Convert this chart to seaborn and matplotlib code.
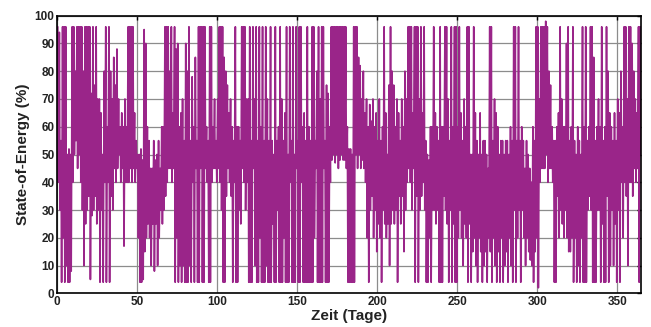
import numpy as np
import pandas as pd
import matplotlib
matplotlib.use("Agg")
import matplotlib.pyplot as plt
import seaborn as sns

# Daily maximum / minimum state-of-energy (%) of the storage, days 0-365
hi_0_72 = [96, 94, 55, 96, 96, 96, 50, 52, 50, 96, 96, 80, 96, 96, 96, 96, 80, 96, 96, 96,
           96, 72, 96, 75, 96, 70, 70, 65, 50, 80, 96, 60, 96, 80, 70, 85, 75, 88, 70, 60,
           65, 60, 70, 60, 96, 96, 96, 96, 65, 55, 50, 50, 52, 48, 95, 90, 60, 55, 45, 45,
           55, 48, 50, 55, 45, 60, 60, 96, 96, 96, 80, 96, 65]
lo_0_72 = [40, 30, 4, 20, 4, 10, 4, 4, 8, 40, 50, 55, 45, 50, 40, 30, 10, 25, 30, 35,
           5, 28, 30, 35, 25, 30, 4, 30, 4, 40, 4, 40, 4, 35, 30, 45, 40, 45, 50, 40,
           45, 17, 40, 40, 40, 45, 40, 45, 40, 45, 20, 4, 4, 5, 15, 20, 25, 20, 10, 25,
           8, 25, 10, 20, 30, 25, 30, 35, 40, 45, 45, 40, 45]

hi_73_145 = [96, 88, 90, 60, 65, 70, 55, 90, 80, 96, 55, 78, 60, 85, 55, 96, 96, 96, 96, 96,
             60, 55, 96, 96, 60, 70, 55, 70, 96, 96, 96, 85, 80, 75, 65, 70, 60, 55, 96, 60,
             60, 55, 96, 96, 96, 70, 70, 96, 55, 96, 70, 96, 55, 96, 60, 96, 55, 96, 70, 55,
             96, 55, 50, 96, 55, 60, 96, 70, 55, 65, 96, 50, 96]
lo_73_145 = [4, 20, 4, 10, 4, 10, 4, 4, 4, 10, 4, 40, 4, 45, 4, 4, 45, 4, 4, 45,
             40, 4, 4, 40, 45, 45, 40, 45, 40, 30, 4, 4, 35, 45, 40, 35, 4, 40, 4, 4,
             30, 25, 45, 40, 30, 40, 4, 4, 4, 45, 10, 4, 4, 20, 4, 4, 4, 10, 4, 4,
             4, 25, 4, 4, 30, 4, 4, 4, 20, 4, 4, 4, 40]

hi_146_218 = [55, 96, 50, 96, 55, 96, 96, 60, 65, 55, 96, 60, 55, 96, 96, 55, 80, 96, 70, 96,
              96, 55, 75, 72, 60, 96, 96, 96, 96, 96, 96, 96, 96, 96, 96, 60, 52, 52, 50, 96,
              96, 96, 85, 82, 70, 80, 65, 70, 60, 68, 62, 70, 60, 65, 55, 70, 55, 60, 96, 65,
              50, 75, 96, 80, 75, 60, 70, 65, 55, 70, 60, 80, 70]
lo_146_218 = [4, 4, 4, 45, 4, 4, 40, 4, 4, 4, 4, 4, 4, 4, 20, 45, 4, 4, 4, 4,
              45, 4, 4, 4, 40, 48, 50, 47, 50, 45, 48, 50, 48, 48, 45, 4, 4, 4, 4, 4,
              50, 45, 50, 45, 48, 45, 40, 20, 4, 30, 35, 20, 30, 15, 25, 20, 4, 30, 25, 20,
              25, 10, 25, 30, 25, 30, 4, 35, 25, 35, 15, 30, 40]

hi_219_291 = [96, 96, 96, 65, 96, 96, 96, 70, 96, 65, 96, 55, 50, 48, 60, 60, 96, 65, 60, 55,
              96, 60, 60, 96, 96, 70, 55, 96, 60, 96, 96, 60, 96, 65, 55, 70, 60, 96, 96, 50,
              50, 96, 65, 55, 50, 65, 50, 55, 55, 50, 45, 96, 96, 55, 70, 65, 60, 50, 55, 55,
              50, 55, 55, 50, 60, 55, 96, 96, 55, 96, 55, 60, 55]
lo_219_291 = [45, 40, 30, 45, 4, 35, 4, 30, 35, 40, 30, 4, 4, 20, 4, 30, 30, 25, 30, 4,
              4, 4, 35, 30, 25, 4, 30, 4, 25, 4, 4, 20, 30, 20, 10, 25, 20, 4, 25, 4,
              15, 20, 10, 4, 20, 15, 4, 10, 15, 4, 20, 15, 4, 20, 10, 4, 15, 4, 20, 4,
              10, 15, 4, 20, 10, 4, 30, 4, 20, 30, 4, 30, 20]

hi_292_365 = [45, 55, 50, 45, 40, 60, 55, 96, 96, 70, 96, 96, 96, 98, 96, 80, 75, 60, 55, 55,
              60, 65, 96, 70, 60, 60, 90, 96, 55, 60, 96, 55, 50, 60, 55, 50, 96, 60, 96, 55,
              60, 96, 96, 85, 55, 60, 70, 60, 96, 55, 60, 96, 80, 65, 60, 55, 65, 55, 70, 65,
              80, 60, 96, 96, 70, 96, 96, 90, 80, 70, 65, 96, 96, 90]
lo_292_365 = [10, 20, 15, 12, 10, 4, 15, 20, 2, 40, 45, 45, 45, 50, 40, 45, 45, 40, 4, 4,
              35, 20, 30, 25, 20, 30, 20, 15, 15, 20, 4, 20, 4, 10, 4, 20, 4, 4, 4, 30,
              35, 30, 4, 4, 4, 30, 30, 4, 25, 4, 4, 35, 4, 10, 30, 10, 25, 4, 30, 4,
              40, 20, 40, 35, 10, 40, 40, 35, 45, 40, 45, 4, 50, 55]

daily_max = hi_0_72 + hi_73_145 + hi_146_218 + hi_219_291 + hi_292_365
daily_min = lo_0_72 + lo_73_145 + lo_146_218 + lo_219_291 + lo_292_365
days = np.arange(len(daily_max))

# Each day: charged to its maximum, then discharged to its minimum
t = np.column_stack([days + 0.3, days + 0.7]).ravel()
soe = np.column_stack([daily_max, daily_min]).ravel()
df = pd.DataFrame({"Zeit": t, "SoE": soe})

sns.set_style("whitegrid")
plt.rcParams["font.family"] = ["Liberation Sans", "DejaVu Sans"]

fig = plt.figure(figsize=(6.51, 3.27), dpi=100)
ax = fig.add_axes([0.088, 0.103, 0.897, 0.849])

sns.lineplot(data=df, x="Zeit", y="SoE", ax=ax, estimator=None, sort=False,
             color="#9a2589", linewidth=1.2)

ax.set_xlim(0, 365)
ax.set_ylim(0, 100)
ax.set_xticks(np.arange(0, 351, 50))
ax.set_yticks(np.arange(0, 101, 10))
ax.grid(True, color="#8c8c8c", linewidth=0.9)
ax.set_axisbelow(True)
for s in ax.spines.values():
    s.set_color("black")
    s.set_linewidth(1.2)
ax.tick_params(direction="in", length=3, width=1, colors="black",
               top=True, right=True, labelsize=8.5, pad=2)
for lbl in ax.get_xticklabels() + ax.get_yticklabels():
    lbl.set_fontweight("bold")
    lbl.set_color("#222222")
ax.set_xlabel("Zeit (Tage)", fontsize=11, fontweight="bold", labelpad=1, color="#222222")
ax.set_ylabel("State-of-Energy (%)", fontsize=11, fontweight="bold", labelpad=3, color="#222222")

fig.savefig("out.png", dpi=100)
